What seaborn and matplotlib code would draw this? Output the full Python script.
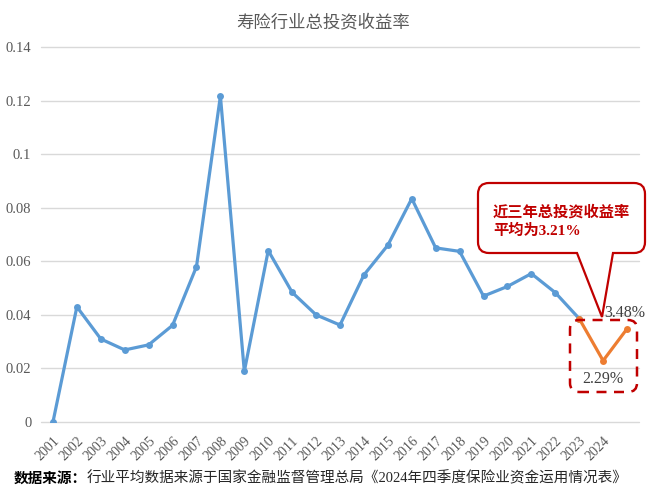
import numpy as np
import pandas as pd
import matplotlib
matplotlib.use('Agg')
import matplotlib.pyplot as plt
import seaborn as sns
from matplotlib.path import Path
from matplotlib.patches import PathPatch, FancyBboxPatch
from matplotlib.transforms import IdentityTransform

# ================================
# 데이터
# ================================
年份标签 = [str(y) for y in range(2001, 2025)]
收益率 = [0.0, 0.0430, 0.0310, 0.0269, 0.0288, 0.0361, 0.0580, 0.1217, 0.0189,
          0.0640, 0.0484, 0.0400, 0.0362, 0.0549, 0.0660, 0.0834, 0.0650, 0.0637,
          0.0470, 0.0506, 0.0554, 0.0483, 0.0386, 0.0229, 0.0348]
y刻度 = [0, 0.02, 0.04, 0.06, 0.08, 0.10, 0.12, 0.14]
y刻度标签 = ['0', '0.02', '0.04', '0.06', '0.08', '0.1', '0.12', '0.14']
近三年起点 = 22
标注值 = {23: '2.29%', 24: '3.48%'}

df = pd.DataFrame({'序号': range(len(收益率)), '收益率': 收益率})
历史 = df.iloc[:近三年起点 + 1]
近三年 = df.iloc[近三年起点:]

# ================================
# 스타일
# ================================
sns.set_theme(style='white')
plt.rcParams['font.family'] = ['Liberation Serif', 'Noto Sans CJK SC']
plt.rcParams['axes.unicode_minus'] = False

fig = plt.figure(figsize=(6.5, 5), dpi=100)
ax = fig.add_axes([41 / 650, 78 / 500, 598 / 650, 375 / 500])

sns.lineplot(data=历史, x='序号', y='收益率', ax=ax, color='#5B9BD5',
             linewidth=2.3, marker='o', markersize=5, markeredgewidth=0)
sns.lineplot(data=近三年, x='序号', y='收益率', ax=ax, color='#ED7D31',
             linewidth=2.3, marker='o', markersize=5, markeredgewidth=0)

ax.set_xlim(-0.5, len(收益率) - 0.5)
ax.set_ylim(0, 0.14)
ax.set_yticks(y刻度)
ax.set_yticklabels(y刻度标签, fontsize=10.5, color='#595959')
ax.set_xticks(range(len(收益率)))
ax.set_xticklabels(年份标签 + [''] * (len(收益率) - len(年份标签)),
                   rotation=45, ha='right', va='top', rotation_mode='anchor',
                   fontsize=10, color='#595959')
ax.tick_params(axis='both', length=0)
ax.tick_params(axis='y', pad=7)
ax.tick_params(axis='x', pad=9)
ax.set_xlabel('')
ax.set_ylabel('')
ax.yaxis.grid(True, color='#d9d9d9', linewidth=1)
ax.xaxis.grid(False)
for gl in ax.get_ygridlines():
    gl.set_clip_on(False)
sns.despine(ax=ax, left=True, bottom=True)

# 数值标签
ax.annotate(标注值[24], (24, 收益率[24]), xytext=(-2, 11.5), textcoords='offset points',
            ha='center', va='center', fontsize=11.5, color='#404040')
ax.annotate(标注值[23], (23, 收益率[23]), xytext=(0, -13), textcoords='offset points',
            ha='center', va='center', fontsize=11.5, color='#404040')

# 标题
fig.text(323 / 650, 1 - 22 / 500, '寿险行业总投资收益率', ha='center', va='center',
         fontsize=12.5, color='#595959', family=['Noto Sans CJK SC'])


# ================================
# 标注框 (像素坐标)
# ================================
def 气泡路径(x0, y0, x1, y1, r, px0, px1, tx, ty):
    verts = [(x0 + r, y1), (x1 - r, y1), (x1, y1), (x1, y1 - r),
             (x1, y0 + r), (x1, y0), (x1 - r, y0),
             (px1, y0), (tx, ty), (px0, y0),
             (x0 + r, y0), (x0, y0), (x0, y0 + r),
             (x0, y1 - r), (x0, y1), (x0 + r, y1), (x0 + r, y1)]
    codes = [Path.MOVETO, Path.LINETO, Path.CURVE3, Path.CURVE3,
             Path.LINETO, Path.CURVE3, Path.CURVE3,
             Path.LINETO, Path.LINETO, Path.LINETO,
             Path.LINETO, Path.CURVE3, Path.CURVE3,
             Path.LINETO, Path.CURVE3, Path.CURVE3, Path.CLOSEPOLY]
    return Path(verts, codes)


H = 500
气泡 = PathPatch(气泡路径(478, H - 253, 645, H - 183, 11, 577, 613, 602, H - 317),
                 facecolor='white', edgecolor='#C00000', linewidth=1.6,
                 transform=IdentityTransform(), zorder=5)
fig.add_artist(气泡)

虚线框 = FancyBboxPatch((570, H - 392), 67, 72, boxstyle='round,pad=0,rounding_size=9',
                        fill=False, edgecolor='#C00000', linewidth=1.8,
                        linestyle=(0, (4, 3)), transform=IdentityTransform(), zorder=5)
fig.add_artist(虚线框)

fig.text(493 / 650, 1 - 212 / 500, '近三年总投资收益率', ha='left', va='center',
         fontsize=11, fontweight='bold', color='#C00000', zorder=6,
         family=['Noto Sans CJK SC'])
fig.text(493 / 650, 1 - 231 / 500, '平均为3.21%', ha='left', va='center',
         fontsize=11, fontweight='bold', color='#C00000', zorder=6,
         family=['Liberation Serif', 'Noto Sans CJK SC'])

# ================================
# 数据来源
# ================================
t1 = fig.text(14 / 650, 1 - 478 / 500, '数据来源：', ha='left', va='center',
              fontsize=10.5, fontweight='bold', color='black',
              family=['Noto Sans CJK SC'])
fig.canvas.draw()
bb = t1.get_window_extent()
fig.text(bb.x1 / 650, 1 - 478 / 500,
         '行业平均数据来源于国家金融监督管理总局《2024年四季度保险业资金运用情况表》',
         ha='left', va='center', fontsize=10.5, color='#262626',
         family=['Liberation Serif', 'Noto Sans CJK SC'])

fig.savefig('out.png', dpi=100)
